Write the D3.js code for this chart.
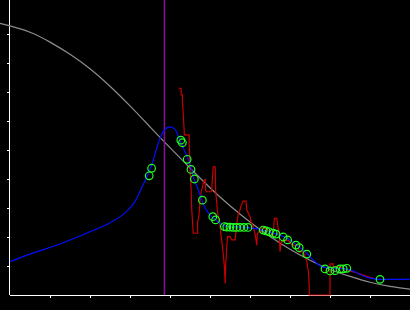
<!DOCTYPE html>
<html>
<head>
<meta charset="utf-8">
<script src="https://cdn.jsdelivr.net/npm/d3@7"></script>
<style>
  body { margin: 0; background: #000; }
  svg { display: block; background: #000; }
</style>
</head>
<body>
<script>
(function (d3) {
  'use strict';

  const W = 410, H = 310;
  const margin = {top: 0, right: 0, bottom: 15, left: 10};

  // tick positions (no labels on this chart)
  const xTicks = [1, 2, 3, 4, 5, 6, 7, 8, 9];
  const yTicks = [1, 2, 3, 4, 5, 6, 7, 8, 9];

  // marker (vertical line)
  const markerX = 3.86;

  // grey reference curve
  const greyX = [-0.25, 0, 0.5, 1, 1.5, 2, 2.5, 3, 3.5, 4, 4.5, 5, 5.5, 6, 6.5, 7, 7.5, 8, 8.5, 9, 9.5, 10];
  const greyY = [9.37, 9.28, 9.06, 8.72, 8.30, 7.80, 7.20, 6.52, 5.80, 5.08, 4.38, 3.70, 3.08, 2.52, 2.02, 1.58, 1.20, 0.88, 0.64, 0.44, 0.30, 0.20];

  // blue fitted curve
  const blueX = [0, 0.5, 1.25, 2, 2.5, 2.875, 3.125, 3.29, 3.42, 3.54, 3.67, 3.75, 3.86, 4.0, 4.125, 4.25, 4.375, 4.46, 4.54, 4.6, 4.71, 4.79, 5.04, 5.125, 5.375, 5.875, 6.21, 6.46, 6.875, 7.17, 7.42, 7.625, 7.83, 8.42, 9, 9.25, 10];
  const blueY = [1.15, 1.41, 1.76, 2.18, 2.49, 2.83, 3.22, 3.69, 4.08, 4.48, 5.07, 5.41, 5.69, 5.80, 5.71, 5.34, 4.94, 4.66, 4.33, 4.0, 3.62, 3.28, 2.70, 2.61, 2.38, 2.33, 2.27, 2.18, 1.99, 1.72, 1.44, 1.15, 0.96, 0.89, 0.58, 0.54, 0.54];

  // red measured series
  const redX = [4.21, 4.28, 4.28, 4.31, 4.31, 4.34, 4.36, 4.48, 4.48, 4.50, 4.53, 4.54, 4.56, 4.58, 4.69, 4.69, 4.73, 4.75, 4.79, 4.86, 4.88, 4.89, 4.92, 5.04, 5.08, 5.13, 5.14, 5.17, 5.19, 5.23, 5.25, 5.29, 5.33, 5.36, 5.38, 5.39, 5.42, 5.44, 5.50, 5.54, 5.63, 5.67, 5.71, 5.75, 5.78, 5.83, 5.90, 5.92, 6.00, 6.04, 6.08, 6.13, 6.17, 6.18, 6.21, 6.28, 6.29, 6.33, 6.50, 6.54, 6.58, 6.61, 6.67, 6.71, 6.73, 6.75, 6.77, 6.79, 6.96, 7.00, 7.08, 7.21, 7.23, 7.33, 7.38, 7.42, 7.46, 7.48, 7.48, 8.00, 8.00, 8.08, 8.08, 8.21, 8.33, 8.42, 8.58, 9.00, 9.08];
  const redY = [7.13, 7.13, 6.90, 6.90, 6.72, 6.03, 5.52, 5.52, 5.17, 4.31, 3.62, 3.04, 2.59, 2.13, 2.13, 2.47, 2.82, 3.28, 3.62, 3.97, 3.99, 3.62, 3.56, 3.56, 4.42, 4.42, 3.62, 3.16, 2.82, 2.59, 2.36, 1.90, 1.44, 0.98, 0.40, 0.98, 1.67, 2.01, 2.01, 1.90, 1.90, 2.47, 2.82, 2.93, 3.10, 3.24, 3.24, 2.93, 2.70, 2.47, 2.36, 2.07, 1.72, 2.07, 2.18, 2.18, 2.36, 2.34, 2.18, 2.13, 2.07, 2.64, 2.64, 2.24, 2.07, 1.49, 1.72, 1.84, 1.90, 1.79, 1.72, 1.72, 1.49, 1.49, 1.32, 1.15, 0.80, 0.34, 0, 0, 1.07, 1.07, 0.97, 0.98, 0.92, 0.86, 0.80, 0.61, 0.58];

  // green sample points
  const ptX = [3.48, 3.54, 4.27, 4.31, 4.43, 4.525, 4.61, 4.81, 5.07, 5.14, 5.36, 5.42, 5.50, 5.58, 5.66, 5.75, 5.85, 5.95, 6.33, 6.40, 6.48, 6.58, 6.65, 6.83, 6.94, 7.15, 7.23, 7.42, 7.875, 8.0, 8.125, 8.25, 8.33, 8.42, 9.25];
  const ptY = [4.11, 4.37, 5.34, 5.25, 4.68, 4.33, 4.0, 3.27, 2.70, 2.59, 2.36, 2.34, 2.34, 2.33, 2.33, 2.33, 2.33, 2.33, 2.24, 2.21, 2.18, 2.13, 2.10, 2.00, 1.90, 1.72, 1.63, 1.41, 0.90, 0.83, 0.84, 0.90, 0.90, 0.92, 0.54];

  const zip = (xs, ys) => xs.map((x, i) => [x, ys[i]]);

  const svg = d3.select("body")
    .append("svg")
      .attr("width", W)
      .attr("height", H);

  const x = d3.scaleLinear()
    .domain([0, 10])
    .range([margin.left, W]);

  const y = d3.scaleLinear()
    .domain([0, 10])
    .range([H - margin.bottom, 5]);

  // axes
  svg.append("g")
    .attr("transform", `translate(0,${H - margin.bottom})`)
    .call(d3.axisBottom(x).tickValues(xTicks).tickSize(3).tickSizeOuter(0).tickFormat(""))
    .call(g => g.select(".domain").attr("d", `M${margin.left},0.5H${W}`))
    .call(g => g.selectAll("line,path").attr("stroke", "#fff"));

  svg.append("g")
    .attr("transform", `translate(${margin.left},0)`)
    .call(d3.axisLeft(y).tickValues(yTicks).tickSize(3).tickSizeOuter(0).tickFormat(""))
    .call(g => g.select(".domain").attr("d", `M-0.5,0V${H - margin.bottom}`))
    .call(g => g.selectAll("line,path").attr("stroke", "#fff"));

  const line = d3.line()
    .x(d => x(d[0]))
    .y(d => y(d[1]));

  // grey curve
  svg.append("path")
    .datum(zip(greyX, greyY))
    .attr("fill", "none")
    .attr("stroke", "#8c8c8c")
    .attr("stroke-width", 1.2)
    .attr("d", line.curve(d3.curveNatural));

  // vertical marker
  svg.append("line")
    .attr("x1", x(markerX)).attr("x2", x(markerX))
    .attr("y1", 0).attr("y2", y(0))
    .attr("stroke", "#8a0a9a")
    .attr("stroke-width", 1.5);

  // red series
  svg.append("path")
    .datum(zip(redX, redY))
    .attr("fill", "none")
    .attr("stroke", "#c80000")
    .attr("stroke-width", 1.2)
    .attr("d", line.curve(d3.curveLinear));

  // blue fit
  svg.append("path")
    .datum(zip(blueX, blueY))
    .attr("fill", "none")
    .attr("stroke", "#0010ff")
    .attr("stroke-width", 1.2)
    .attr("d", line.curve(d3.curveMonotoneX));

  // green circles
  svg.append("g")
    .selectAll("circle")
    .data(zip(ptX, ptY))
    .join("circle")
      .attr("cx", d => x(d[0]))
      .attr("cy", d => y(d[1]))
      .attr("r", 3.8)
      .attr("fill", "none")
      .attr("stroke", "#22ff22")
      .attr("stroke-width", 1.2);

}(d3));
</script>
</body>
</html>
